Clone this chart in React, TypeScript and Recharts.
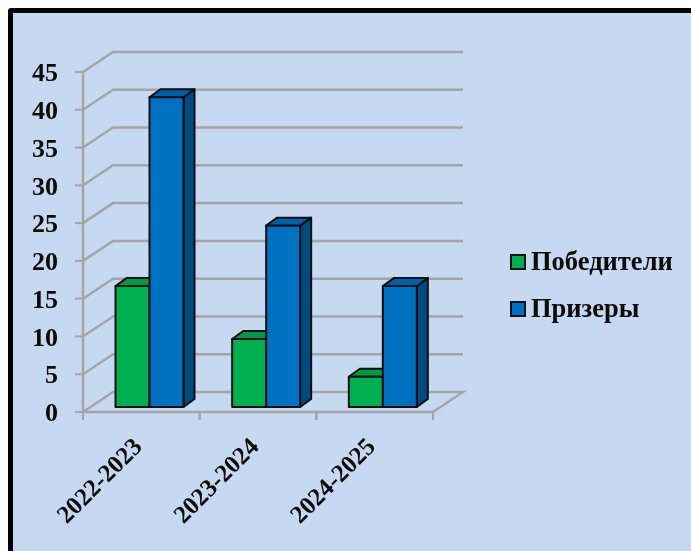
import React from 'react';
import { BarChart, Bar, XAxis, YAxis, CartesianGrid, Legend } from 'recharts';

const categories = ['2022-2023', '2023-2024', '2024-2025'];
const winners = [16, 9, 4];
const medalists = [41, 24, 16];
const yTicks = [0, 5, 10, 15, 20, 25, 30, 35, 40, 45];

const chartData = categories.map((name, i) => ({
  name,
  winners: winners[i],
  medalists: medalists[i],
}));

const FONT = '"Liberation Serif", "Times New Roman", serif';
const GRID = '#a3a5a8';
// wall depth of the fake 3D box
const WALL_DX = 30;
const WALL_DY = 20;
// bars sit a bit inside the box
const BAR_DX = 8.5;
const BAR_DY = 5;
const BAR_DEPTH_X = 11;
const BAR_DEPTH_Y = 8;

const makeBar = (front, top, side) => (props) => {
  const { x, y, width, height } = props;
  const bx = x + BAR_DX;
  const by = y - BAR_DY;
  const r = bx + width;
  const b = by + height;
  return (
    <g stroke="#0a0f14" strokeWidth={2} strokeLinejoin="round">
      <polygon
        points={`${r},${by} ${r + BAR_DEPTH_X},${by - BAR_DEPTH_Y} ${r + BAR_DEPTH_X},${b - BAR_DEPTH_Y} ${r},${b}`}
        fill={side}
      />
      <polygon
        points={`${bx},${by} ${bx + BAR_DEPTH_X},${by - BAR_DEPTH_Y} ${r + BAR_DEPTH_X},${by - BAR_DEPTH_Y} ${r},${by}`}
        fill={top}
      />
      <rect x={bx} y={by} width={width} height={height} fill={front} />
    </g>
  );
};

// each grid line runs up the side wall and then along the back wall
const WallLine = (props) => {
  const { x1, x2, y1 } = props;
  const isFloor = y1 > 400;
  const pts = [
    `${x1},${y1}`,
    `${x1 + WALL_DX},${y1 - WALL_DY}`,
    `${x2 + WALL_DX},${y1 - WALL_DY}`,
  ];
  if (isFloor) pts.push(`${x2},${y1}`);
  return <polyline points={pts.join(' ')} fill="none" stroke={GRID} strokeWidth={2.5} />;
};

// ticks go between the categories, labels are rotated
const CategoryTick = (props) => {
  const { x, y, payload, width } = props;
  const half = width / categories.length / 2;
  return (
    <g>
      <line x1={x - half} x2={x - half} y1={y - 8} y2={y} stroke={GRID} strokeWidth={2} />
      <line x1={x + half} x2={x + half} y1={y - 8} y2={y} stroke={GRID} strokeWidth={2} />
      <text
        x={x + 2}
        y={y + 28}
        textAnchor="end"
        transform={`rotate(-45 ${x + 2} ${y + 28})`}
        fontFamily={FONT}
        fontSize={25}
        fontWeight="bold"
        fill="#0b0b0b"
      >
        {payload.value}
      </text>
    </g>
  );
};

const LegendContent = ({ payload }) => (
  <div>
    {(payload || []).map((item) => (
      <div key={item.value} style={{ display: 'flex', alignItems: 'center', height: 47 }}>
        <span
          style={{
            width: 12,
            height: 12,
            background: item.color,
            border: '2px solid #0a0f14',
            marginRight: 5,
          }}
        />
        <span style={{ fontFamily: FONT, fontSize: 26.5, fontWeight: 'bold', color: '#0b0b0b' }}>
          {item.value}
        </span>
      </div>
    ))}
  </div>
);

export default function App() {
  return (
    <div
      style={{
        position: 'fixed',
        left: 0,
        top: 0,
        width: 691,
        height: 551,
        overflow: 'hidden',
        background: '#fff',
      }}
    >
      <div
        style={{
          position: 'absolute',
          left: 8,
          top: 8,
          width: 700,
          height: 600,
          background: '#c6d9f1',
          border: '5px solid #000',
          borderRadius: 3,
        }}
      />
      <div style={{ position: 'absolute', left: 0, top: 0, filter: 'blur(0.5px)' }}>
        <BarChart
          width={691}
          height={551}
          data={chartData}
          barGap={0}
          barSize={34}
          margin={{ top: 72, right: 78, bottom: 0, left: 0 }}
        >
          <CartesianGrid vertical={false} horizontal={(p) => <WallLine key={p.y1} {...p} />} />
          <XAxis
            dataKey="name"
            height={139}
            interval={0}
            tickLine={false}
            axisLine={{ stroke: GRID, strokeWidth: 2.5 }}
            tick={(p) => <CategoryTick {...p} />}
          />
          <YAxis
            width={83}
            domain={[0, 45]}
            ticks={yTicks}
            interval={0}
            tickSize={8}
            tickMargin={17}
            axisLine={{ stroke: GRID, strokeWidth: 2.5 }}
            tickLine={{ stroke: GRID, strokeWidth: 2 }}
            tick={{ fontFamily: FONT, fontSize: 26, fontWeight: 'bold', fill: '#0b0b0b' }}
          />
          <Legend
            layout="vertical"
            align="right"
            verticalAlign="middle"
            width={180}
            wrapperStyle={{ left: 510, top: 238, right: 'auto', bottom: 'auto' }}
            content={(p) => <LegendContent payload={p.payload} />}
          />
          <Bar
            dataKey="winners"
            name="Победители"
            fill="#00b050"
            isAnimationActive={false}
            shape={makeBar('#00b050', '#009a46', '#007a38')}
          />
          <Bar
            dataKey="medalists"
            name="Призеры"
            fill="#0070c0"
            isAnimationActive={false}
            shape={makeBar('#0070c0', '#0060a8', '#004a80')}
          />
        </BarChart>
      </div>
    </div>
  );
}
